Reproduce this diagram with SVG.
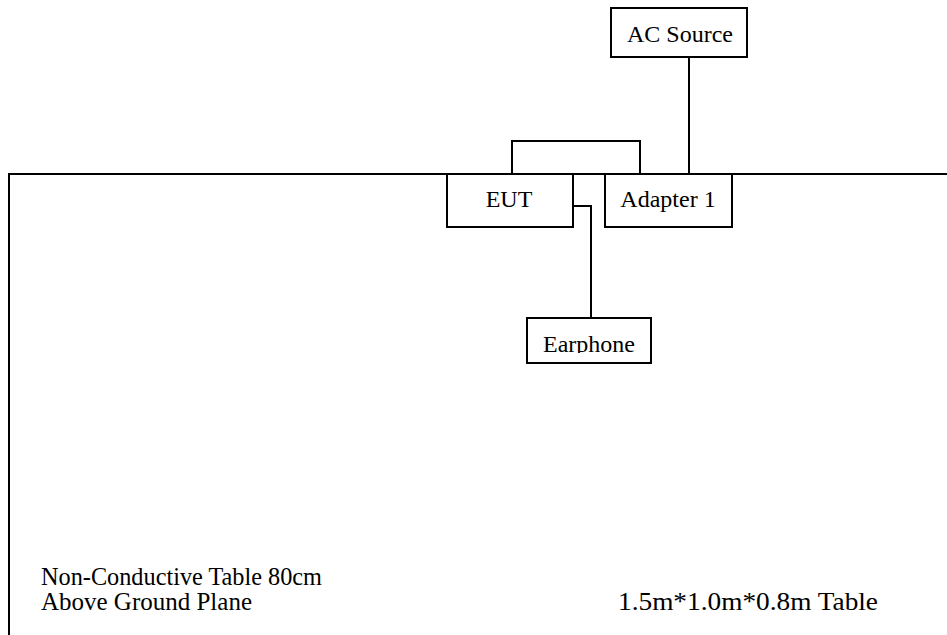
<svg xmlns="http://www.w3.org/2000/svg" width="947" height="635" viewBox="0 0 947 635">
<style>
.box{fill:#fff;stroke:#000;stroke-width:2}
.ln{fill:none;stroke:#000;stroke-width:2}
text{font-family:"Liberation Serif","Times New Roman",serif;font-size:24px;fill:#000}
.lbl{font-size:24.5px}
</style>
<defs>
<clipPath id="epclip"><rect x="527" y="318" width="124" height="35"/></clipPath>
</defs>
<rect width="947" height="635" fill="#fff"/>
<g id="table">
<path class="ln" d="M947 174 H9 V635"/>
<text class="lbl" x="41" y="585" textLength="281" lengthAdjust="spacingAndGlyphs">Non-Conductive Table 80cm</text>
<text class="lbl" x="41" y="610" textLength="211" lengthAdjust="spacingAndGlyphs">Above Ground Plane</text>
<text class="lbl" x="618" y="610" textLength="260" lengthAdjust="spacingAndGlyphs">1.5m*1.0m*0.8m Table</text>
</g>
<g id="connectors">
<path class="ln" d="M689 57 V174"/>
<path class="ln" d="M512 174 V141 H640 V174"/>
<path class="ln" d="M573 206 H591 V318"/>
</g>
<g id="ac-source">
<rect class="box" x="611" y="8" width="136" height="49"/>
<text x="680" y="42" text-anchor="middle">AC Source</text>
</g>
<g id="eut">
<rect class="box" x="447" y="174" width="126" height="53"/>
<text x="509" y="207" text-anchor="middle">EUT</text>
</g>
<g id="adapter">
<rect class="box" x="605" y="174" width="127" height="53"/>
<text x="668" y="207" text-anchor="middle">Adapter 1</text>
</g>
<g id="earphone">
<rect class="box" x="527" y="318" width="124" height="45"/>
<text x="589" y="352" text-anchor="middle" clip-path="url(#epclip)">Earphone</text>
</g>
</svg>
